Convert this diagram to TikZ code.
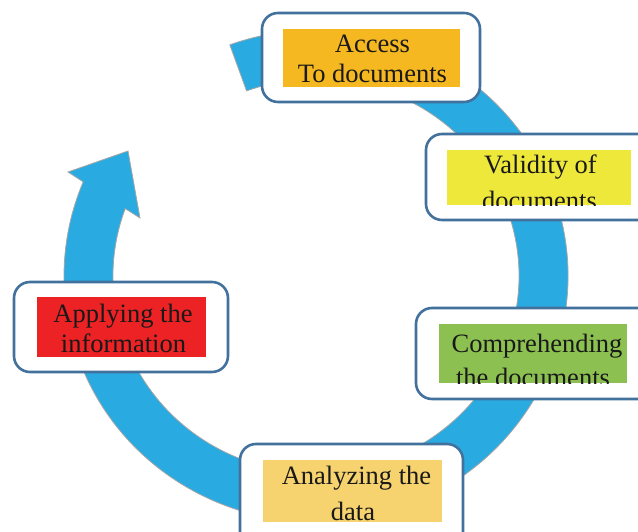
\documentclass[tikz,border=0pt]{standalone}
\usepackage{fontspec}
\setmainfont{Liberation Serif}
\usetikzlibrary{calc}
\definecolor{ringblue}{HTML}{29ABE2}
\definecolor{ringedge}{HTML}{A6A6A6}
\definecolor{boxedge}{HTML}{41719C}
\definecolor{fillA}{HTML}{F5B820}
\definecolor{fillB}{HTML}{EEE83A}
\definecolor{fillC}{HTML}{8CC152}
\definecolor{fillD}{HTML}{ED2224}
\definecolor{fillE}{HTML}{F6D36E}
\tikzset{
  stagebox/.style={draw=boxedge, fill=white, line width=2.6pt, rounded corners=16pt, inner sep=0pt},
  labelfill/.style={inner sep=0pt, draw=none},
  labeltext/.style={anchor=base, inner sep=0pt, font=\fontsize{26.5}{30}\selectfont, text=black!90},
}
\begin{document}
\begin{tikzpicture}[x=1pt,y=1pt]
\useasboundingbox (0,0) rectangle (638,532);
\clip (0,0) rectangle (638,532);
\coordinate (c) at (316,256);
% circular arrow
\filldraw[fill=ringblue, draw=ringedge, line width=0.8pt, line join=miter]
  ($(c)+(110:252 and 246)$) arc[start angle=110, end angle=-202.5, x radius=252, y radius=246]
  -- (68,360) -- (128,381) -- (140,314)
  -- ($(c)+(-200:203 and 197)$) arc[start angle=-200, end angle=110, x radius=203, y radius=197]
  -- cycle;
% boxes
\node[stagebox, minimum width=218, minimum height=89] (b1) at (371,474.5) {};
\node[stagebox, minimum width=234, minimum height=86] (b2) at (543,355) {};
\node[stagebox, minimum width=244, minimum height=91] (b3) at (538,178.5) {};
\node[stagebox, minimum width=214, minimum height=90] (b4) at (121,205) {};
\node[stagebox, minimum width=223, minimum height=108] (b5) at (351.5,34) {};
% coloured fills
\node[labelfill, fill=fillA, minimum width=177, minimum height=58] (f1) at (371.5,474) {};
\node[labelfill, fill=fillB, minimum width=184, minimum height=55] (f2) at (539,354.5) {};
\node[labelfill, fill=fillC, minimum width=188, minimum height=59] (f3) at (533,178.5) {};
\node[labelfill, fill=fillD, minimum width=169, minimum height=60] (f4) at (121.5,205) {};
\node[labelfill, fill=fillE, minimum width=179, minimum height=62] (f5) at (352.5,41) {};
% texts
\begin{scope}
\clip (f1.south west) rectangle (f1.north east);
\node[labeltext] (t1a) at (372.5,479) {Access};
\node[labeltext] (t1b) at (372.5,449) {To documents};
\end{scope}
\begin{scope}
\clip (f2.south west) rectangle (f2.north east);
\node[labeltext] (t2a) at (540.5,358) {Validity of};
\node[labeltext] (t2b) at (539.5,322) {documents};
\end{scope}
\begin{scope}
\clip (f3.south west) rectangle (f3.north east);
\node[labeltext] (t3a) at (537,179) {Comprehending};
\node[labeltext] (t3b) at (533,145) {the documents};
\end{scope}
\begin{scope}
\clip (f4.south west) rectangle (f4.north east);
\node[labeltext] (t4a) at (123,209) {Applying the};
\node[labeltext] (t4b) at (123.5,179) {information};
\end{scope}
\begin{scope}
\clip (f5.south west) rectangle (f5.north east);
\node[labeltext] (t5a) at (356.5,47) {Analyzing the};
\node[labeltext] (t5b) at (353,11) {data};
\end{scope}
\end{tikzpicture}
\end{document}
